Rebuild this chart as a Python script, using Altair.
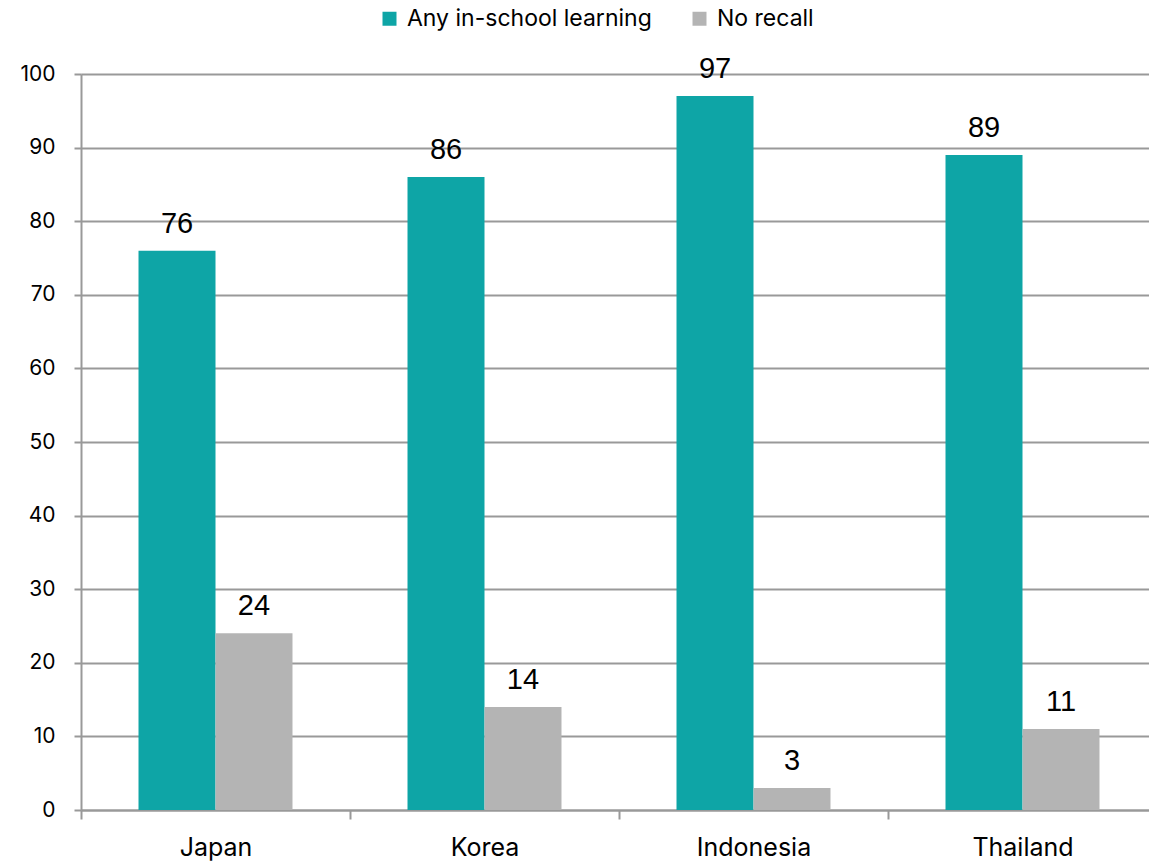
import altair as alt
import pandas as pd

countries = ["Japan", "Korea", "Indonesia", "Thailand"]
series = ["Any in-school learning", "No recall"]
any_learning = [76, 86, 97, 89]
no_recall = [24, 14, 3, 11]
colors = ["#0EA5A6", "#B4B4B4"]
y_ticks = [0, 10, 20, 30, 40, 50, 60, 70, 80, 90, 100]

rows = []
for c, a, n in zip(countries, any_learning, no_recall):
    rows.append({"country": c, "series": series[0], "value": a})
    rows.append({"country": c, "series": series[1], "value": n})
df = pd.DataFrame(rows)

AXIS_GRAY = "#999999"
FONT = "Inter"

x_enc = alt.X(
    "country:N",
    sort=countries,
    title=None,
    scale=alt.Scale(paddingInner=0, paddingOuter=0, range=[0, 1076]),
    axis=alt.Axis(
        tickBand="extent",
        labelAngle=0,
        labelFontSize=25,
        labelFont=FONT,
        labelColor="#000000",
        labelPadding=16,
        tickSize=9,
        tickWidth=2,
        tickColor=AXIS_GRAY,
        domainColor=AXIS_GRAY,
        domainWidth=2,
        grid=False,
    ),
)
xo_enc = alt.XOffset(
    "series:N", sort=series, scale=alt.Scale(paddingInner=0, paddingOuter=0.747)
)
y_enc = alt.Y(
    "value:Q",
    title=None,
    scale=alt.Scale(domain=[0, 100], nice=False),
    axis=alt.Axis(
        values=y_ticks,
        labelFontSize=21,
        labelFont=FONT,
        labelColor="#000000",
        labelPadding=19,
        tickSize=7,
        tickWidth=2,
        tickColor=AXIS_GRAY,
        domainColor=AXIS_GRAY,
        domainWidth=2,
        gridColor=AXIS_GRAY,
        gridWidth=2,
    ),
)

color_enc = alt.Color(
    "series:N",
    sort=series,
    scale=alt.Scale(domain=series, range=colors),
    legend=alt.Legend(
        title=None,
        orient="none",
        direction="horizontal",
        legendX=297,
        legendY=-67,
        symbolType="square",
        symbolSize=196,
        symbolStrokeWidth=0,
        labelFontSize=23,
        labelFont=FONT,
        labelColor="#000000",
        labelLimit=0,
        columnPadding=36,
        labelOffset=6,
    ),
)

base = alt.Chart(df).encode(x=x_enc, xOffset=xo_enc, y=y_enc)
bars = base.mark_bar().encode(color=color_enc)
labels = base.mark_text(
    dy=-18, baseline="alphabetic", fontSize=29, font="Liberation Sans", color="#000000"
).encode(text=alt.Text("value:Q"))

chart = (
    alt.layer(bars, labels)
    .properties(
        width=1068,
        height=736,
        autosize=alt.AutoSizeParams(type="none"),
        padding={"left": 81, "top": 74, "right": 0, "bottom": 53},
    )
    .configure_view(stroke=None)
    .configure(background="#ffffff")
)

chart.save("out.html", embed_options={"renderer": "svg", "actions": False})
